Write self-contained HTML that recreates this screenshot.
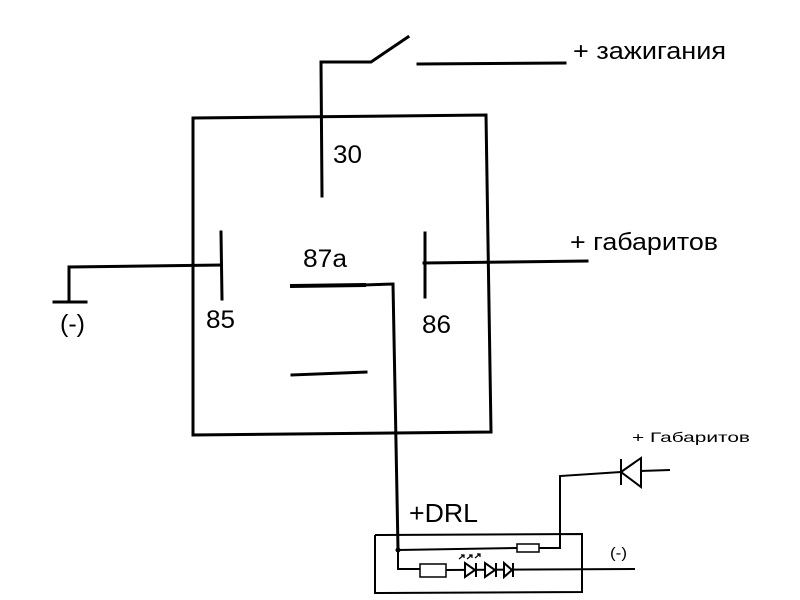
<!DOCTYPE html>
<html><head><style>html,body{margin:0;padding:0;background:#fff}svg{display:block}text{font-family:"Liberation Sans","DejaVu Sans",sans-serif;fill:#000}</style></head>
<body>
<svg width="800" height="600" viewBox="0 0 800 600" xmlns="http://www.w3.org/2000/svg">
<g stroke="#000" stroke-width="3" fill="none" stroke-linecap="square">
<polyline points="193,435 193,118 486,115 491,432 193,435"/>
<polyline points="322,196 321,62 371,62 408,37"/>
<line x1="418" y1="64" x2="565" y2="63"/>
<line x1="221" y1="232" x2="222" y2="299"/>
<polyline points="69,301 69,267 221,265"/>
<line x1="54" y1="302" x2="86" y2="302"/>
<line x1="425" y1="233" x2="425" y2="297"/>
<line x1="424" y1="263" x2="587" y2="261"/>
<line x1="292" y1="286" x2="364" y2="285" stroke-width="4"/>
<polyline points="364,285 393,284 398,549"/>
<line x1="292" y1="375" x2="366" y2="372"/>
</g>
<g stroke="#000" stroke-width="2" fill="none">
<polyline points="375,535 582,534 582,592 375,593 375,535"/>
<polyline points="398,549 398,569 420,569"/>
<line x1="398" y1="550" x2="517" y2="548"/>
<rect x="517" y="544" width="22" height="8" stroke-width="1.5"/>
<polyline points="539,548 560,548 560,476 621,472"/>
<line x1="640" y1="471" x2="670" y2="470"/>
<line x1="621" y1="459" x2="621" y2="485"/>
<polygon points="621,472 641,458 641,487"/>
<rect x="420" y="564" width="26" height="13" stroke-width="1.5"/>
<line x1="446" y1="570" x2="635" y2="569"/>
<polygon points="465,563 465,577 475,570" fill="#fff"/><line x1="476" y1="563" x2="476" y2="577"/>
<polygon points="485,563 485,577 495,570" fill="#fff"/><line x1="496" y1="563" x2="496" y2="577"/>
<polygon points="504,563 504,577 512,570" fill="#fff"/><line x1="513" y1="563" x2="513" y2="577"/>
<g stroke-width="1.2"><path d="M459,559 l5,-4 M461,555 h3 v3 M467,559 l5,-4 M469,555 h3 v3 M475,558 l5,-4 M477,554 h3 v3"/></g>
</g>
<circle cx="398" cy="550" r="2.5" fill="#000"/>
<text x="573" y="59" font-size="24" textLength="153" lengthAdjust="spacingAndGlyphs">+ зажигания</text>
<text x="333" y="163" font-size="25" textLength="29" lengthAdjust="spacingAndGlyphs">30</text>
<text x="303" y="267" font-size="25" textLength="44" lengthAdjust="spacingAndGlyphs">87a</text>
<text x="206" y="328" font-size="25" textLength="29" lengthAdjust="spacingAndGlyphs">85</text>
<text x="422" y="333" font-size="25" textLength="29" lengthAdjust="spacingAndGlyphs">86</text>
<text x="60" y="332" font-size="25" textLength="25" lengthAdjust="spacingAndGlyphs">(-)</text>
<text x="570" y="250" font-size="24" textLength="148" lengthAdjust="spacingAndGlyphs">+ габаритов</text>
<text x="409" y="522" font-size="26" textLength="69" lengthAdjust="spacingAndGlyphs">+DRL</text>
<text x="632" y="442" font-size="14" textLength="118" lengthAdjust="spacingAndGlyphs">+ Габаритов</text>
<text x="610" y="558" font-size="15" textLength="17" lengthAdjust="spacingAndGlyphs">(-)</text>
</svg>
</body></html>
